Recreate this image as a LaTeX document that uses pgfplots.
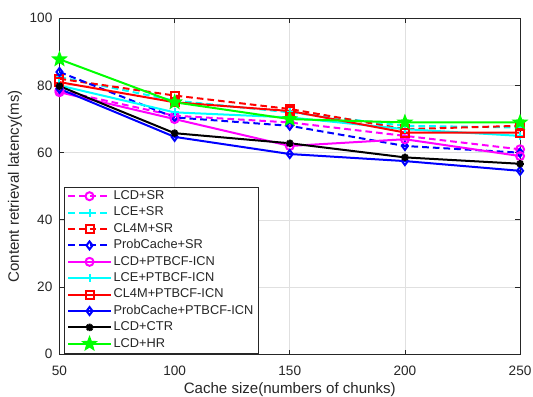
\documentclass[border=0pt]{standalone}
\usepackage{pgfplots}
\pgfplotsset{compat=1.18}
\usepackage{fontspec}
\setmainfont{Liberation Sans}
\usetikzlibrary{plotmarks}
\definecolor{mmag}{rgb}{1,0,1}
\definecolor{mcyan}{rgb}{0,1,1}
\definecolor{mgreen}{rgb}{0,1,0}
\definecolor{mred}{rgb}{1,0,0}
\definecolor{mblue}{rgb}{0,0,1}
\definecolor{axgray}{rgb}{0.15,0.15,0.15}
\pgfdeclareplotmark{pstar}{%
  \pgfpathmoveto{\pgfpointpolar{90}{\pgfplotmarksize}}%
  \pgfpathlineto{\pgfpointpolar{126}{0.42\pgfplotmarksize}}%
  \pgfpathlineto{\pgfpointpolar{162}{\pgfplotmarksize}}%
  \pgfpathlineto{\pgfpointpolar{198}{0.42\pgfplotmarksize}}%
  \pgfpathlineto{\pgfpointpolar{234}{\pgfplotmarksize}}%
  \pgfpathlineto{\pgfpointpolar{270}{0.42\pgfplotmarksize}}%
  \pgfpathlineto{\pgfpointpolar{306}{\pgfplotmarksize}}%
  \pgfpathlineto{\pgfpointpolar{342}{0.42\pgfplotmarksize}}%
  \pgfpathlineto{\pgfpointpolar{18}{\pgfplotmarksize}}%
  \pgfpathlineto{\pgfpointpolar{54}{0.42\pgfplotmarksize}}%
  \pgfpathclose
  \pgfusepathqfillstroke}
\pgfdeclareplotmark{mstar}{%
  \pgfpathmoveto{\pgfpoint{-\pgfplotmarksize}{0pt}}\pgfpathlineto{\pgfpoint{\pgfplotmarksize}{0pt}}%
  \pgfpathmoveto{\pgfpoint{0pt}{-\pgfplotmarksize}}\pgfpathlineto{\pgfpoint{0pt}{\pgfplotmarksize}}%
  \pgfpathmoveto{\pgfpoint{-0.707\pgfplotmarksize}{-0.707\pgfplotmarksize}}\pgfpathlineto{\pgfpoint{0.707\pgfplotmarksize}{0.707\pgfplotmarksize}}%
  \pgfpathmoveto{\pgfpoint{-0.707\pgfplotmarksize}{0.707\pgfplotmarksize}}\pgfpathlineto{\pgfpoint{0.707\pgfplotmarksize}{-0.707\pgfplotmarksize}}%
  \pgfusepathqstroke}
\begin{document}
\begin{tikzpicture}
\begin{axis}[
  at={(0,0)}, anchor=south west,
  scale only axis, width=345.4pt, height=252pt,
  xmin=50, xmax=250, ymin=0, ymax=100,
  xtick={50,100,150,200,250}, ytick={0,20,40,60,80,100},
  grid=major, major grid style={black!12, line width=0.5pt},
  axis line style={axgray, line width=0.6pt},
  tick style={axgray, line width=0.6pt},
  tick align=inside, major tick length=3.5pt,
  /pgf/number format/assume math mode=true,
  tick label style={font=\fontsize{10.2}{12}\selectfont, text=axgray},
  x tick label style={yshift=-5pt},
  y tick label style={xshift=-1.8pt},
  xlabel={Cache size(numbers of chunks)},
  ylabel={Content retrieval latency(ms)},
  label style={font=\fontsize{11.3}{13}\selectfont, text=axgray},
  xlabel style={at={(axis description cs:0.5,-0.106)}, anchor=center},
  ylabel style={at={(axis description cs:-0.0966,0.5)}, anchor=center},
  legend cell align=left,
  legend image code/.code={\draw[mark repeat=2,mark phase=2] plot coordinates {(0pt,0pt) (15.8pt,0pt) (31.6pt,0pt)};},
  legend image post style={line width=1.5pt},
  legend style={at={(axis description cs:0,0)}, anchor=south west,
    xshift=3.6pt, yshift=0.75pt, draw=axgray, fill=white,
    inner xsep=2.2pt, inner ysep=0.75pt, row sep=0pt,
    font=\fontsize{9.6}{11}\selectfont, text=axgray,
    nodes={inner xsep=1.5pt, inner ysep=0pt, text height=8.6pt, text depth=3.7pt}},
  every axis plot/.append style={line width=1.5pt, mark size=3pt},
]
\addplot[mmag, dashed, dash pattern=on 5pt off 3pt, mark=o, mark options={solid}] coordinates {(50,78.5) (100,71) (150,69) (200,65) (250,61)};
\addlegendentry{LCD+SR}
\addplot[mcyan, dashed, dash pattern=on 5pt off 3pt, mark=+, mark options={solid}] coordinates {(50,82.5) (100,75.5) (150,72) (200,68) (250,67.5)};
\addlegendentry{LCE+SR}
\addplot[mred, dashed, dash pattern=on 5pt off 3pt, mark=square, mark options={solid}] coordinates {(50,82) (100,77) (150,73) (200,67) (250,68)};
\addlegendentry{CL4M+SR}
\addplot[mblue, dashed, dash pattern=on 5pt off 3pt, mark=diamond, mark options={solid}] coordinates {(50,84) (100,70.5) (150,68) (200,62) (250,60)};
\addlegendentry{ProbCache+SR}
\addplot[mmag, mark=o] coordinates {(50,78) (100,70) (150,62) (200,64) (250,59)};
\addlegendentry{LCD+PTBCF-ICN}
\addplot[mcyan, mark=+] coordinates {(50,80) (100,72) (150,70.5) (200,67) (250,65)};
\addlegendentry{LCE+PTBCF-ICN}
\addplot[mred, mark=square] coordinates {(50,81) (100,75) (150,72.4) (200,66) (250,66)};
\addlegendentry{CL4M+PTBCF-ICN}
\addplot[mblue, mark=diamond] coordinates {(50,79) (100,64.7) (150,59.6) (200,57.5) (250,54.6)};
\addlegendentry{ProbCache+PTBCF-ICN}
\addplot[black, mark=mstar, mark size=2.8pt] coordinates {(50,79.8) (100,65.8) (150,62.8) (200,58.6) (250,56.7)};
\addlegendentry{LCD+CTR}
\addplot[mgreen, mark=pstar, mark size=4.5pt, mark options={fill=mgreen}] coordinates {(50,87.8) (100,75) (150,70) (200,69) (250,69)};
\addlegendentry{LCD+HR}
\end{axis}
\pgfresetboundingbox
\path (-44.6pt,-32pt) rectangle (355.1pt,265.7pt);
\end{tikzpicture}
\end{document}
